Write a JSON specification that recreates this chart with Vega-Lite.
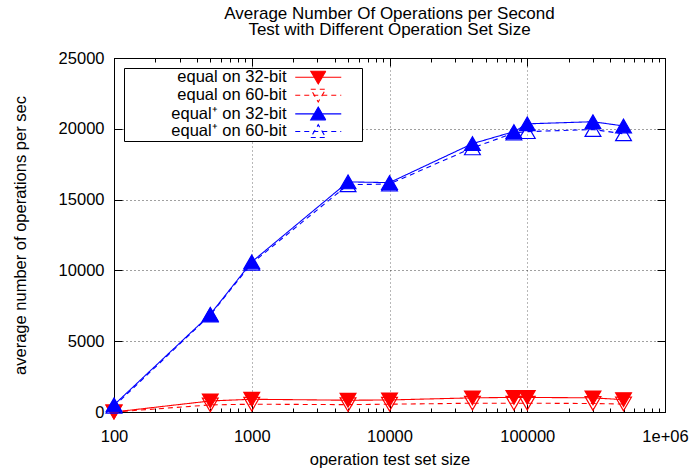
{
  "$schema": "https://vega.github.io/schema/vega-lite/v6.json",
  "autosize": {"type": "none"},
  "width": 551,
  "height": 354,
  "padding": {"left": 114, "top": 58, "right": 25, "bottom": 61},
  "background": "white",
  "config": {
    "font": "Liberation Sans",
    "view": {"stroke": "black", "strokeWidth": 1},
    "axis": {
      "labelFont": "Liberation Sans",
      "titleFont": "Liberation Sans",
      "labelFontSize": 16.5,
      "titleFontSize": 16.5,
      "titleFontWeight": "normal",
      "labelColor": "black",
      "titleColor": "black",
      "domainColor": "black",
      "tickColor": "black",
      "gridColor": "#000000",
      "gridDash": [1, 3],
      "gridOpacity": 0.75,
      "labelFlush": false,
      "labelOverlap": false
    },
    "legend": {
      "labelFont": "Liberation Sans",
      "labelFontSize": 16.5,
      "labelColor": "black"
    }
  },
  "title": {
    "text": ["Average Number Of Operations per Second", "Test with Different Operation Set Size"],
    "font": "Liberation Sans",
    "fontSize": 17,
    "fontWeight": "normal",
    "lineHeight": 16,
    "anchor": "middle",
    "color": "black",
    "offset": 11
  },
  "data": {
    "values": [
      {"size": 100, "series": "equal on 32-bit", "ops": 0},
      {"size": 500, "series": "equal on 32-bit", "ops": 780},
      {"size": 1000, "series": "equal on 32-bit", "ops": 900},
      {"size": 5000, "series": "equal on 32-bit", "ops": 830},
      {"size": 10000, "series": "equal on 32-bit", "ops": 850},
      {"size": 40000, "series": "equal on 32-bit", "ops": 1000},
      {"size": 80000, "series": "equal on 32-bit", "ops": 1030},
      {"size": 100000, "series": "equal on 32-bit", "ops": 1030},
      {"size": 300000, "series": "equal on 32-bit", "ops": 1000},
      {"size": 500000, "series": "equal on 32-bit", "ops": 870},
      {"size": 100, "series": "equal on 60-bit", "ops": 0},
      {"size": 500, "series": "equal on 60-bit", "ops": 500},
      {"size": 1000, "series": "equal on 60-bit", "ops": 550},
      {"size": 5000, "series": "equal on 60-bit", "ops": 520},
      {"size": 10000, "series": "equal on 60-bit", "ops": 550},
      {"size": 40000, "series": "equal on 60-bit", "ops": 620},
      {"size": 80000, "series": "equal on 60-bit", "ops": 620},
      {"size": 100000, "series": "equal on 60-bit", "ops": 620},
      {"size": 300000, "series": "equal on 60-bit", "ops": 600},
      {"size": 500000, "series": "equal on 60-bit", "ops": 560},
      {"size": 100, "series": "equal⁺ on 32-bit", "ops": 500},
      {"size": 500, "series": "equal⁺ on 32-bit", "ops": 6900},
      {"size": 1000, "series": "equal⁺ on 32-bit", "ops": 10600},
      {"size": 5000, "series": "equal⁺ on 32-bit", "ops": 16250},
      {"size": 10000, "series": "equal⁺ on 32-bit", "ops": 16200},
      {"size": 40000, "series": "equal⁺ on 32-bit", "ops": 18950},
      {"size": 80000, "series": "equal⁺ on 32-bit", "ops": 19800},
      {"size": 100000, "series": "equal⁺ on 32-bit", "ops": 20350},
      {"size": 300000, "series": "equal⁺ on 32-bit", "ops": 20500},
      {"size": 500000, "series": "equal⁺ on 32-bit", "ops": 20200},
      {"size": 100, "series": "equal⁺ on 60-bit", "ops": 400},
      {"size": 500, "series": "equal⁺ on 60-bit", "ops": 6850},
      {"size": 1000, "series": "equal⁺ on 60-bit", "ops": 10500},
      {"size": 5000, "series": "equal⁺ on 60-bit", "ops": 16050},
      {"size": 10000, "series": "equal⁺ on 60-bit", "ops": 16100},
      {"size": 40000, "series": "equal⁺ on 60-bit", "ops": 18650},
      {"size": 80000, "series": "equal⁺ on 60-bit", "ops": 19700},
      {"size": 100000, "series": "equal⁺ on 60-bit", "ops": 19800},
      {"size": 300000, "series": "equal⁺ on 60-bit", "ops": 19950},
      {"size": 500000, "series": "equal⁺ on 60-bit", "ops": 19650}
    ]
  },
  "layer": [
    {
      "mark": {"type": "line", "strokeWidth": 1.1, "clip": false},
      "encoding": {
        "x": {
          "field": "size", "type": "quantitative",
          "scale": {"type": "log", "domain": [100, 1000000], "nice": false},
          "axis": {
            "orient": "bottom",
            "title": "operation test set size",
            "titlePadding": 3,
            "values": [100,200,300,400,500,600,700,800,900,1000,2000,3000,4000,5000,6000,7000,8000,9000,10000,20000,30000,40000,50000,60000,70000,80000,90000,100000,200000,300000,400000,500000,600000,700000,800000,900000,1000000],
            "labelExpr": "indexof([100,1000,10000,100000,1000000], datum.value) >= 0 ? (datum.value == 1000000 ? '1e+06' : format(datum.value, 'd')) : ''",
            "tickSize": {"condition": {"test": "indexof([100,1000,10000,100000,1000000], datum.value) >= 0", "value": -8}, "value": -4},
            "gridOpacity": {"condition": {"test": "indexof([100,1000,10000,100000,1000000], datum.value) >= 0", "value": 0.75}, "value": 0},
            "labelPadding": 24
          }
        },
        "y": {
          "field": "ops", "type": "quantitative",
          "scale": {"domain": [0, 25000], "nice": false},
          "axis": {
            "orient": "left",
            "title": "average number of operations per sec",
            "values": [0, 5000, 10000, 15000, 20000, 25000],
            "format": "d",
            "tickSize": -8,
            "labelPadding": 18,
            "titlePadding": 30
          }
        },
        "stroke": {
          "field": "series", "type": "nominal",
          "scale": {"domain": ["equal on 32-bit", "equal on 60-bit", "equal⁺ on 32-bit", "equal⁺ on 60-bit"], "range": ["#ff0000", "#ff0000", "#0000ff", "#0000ff"]},
          "legend": null
        },
        "strokeDash": {
          "field": "series", "type": "nominal",
          "scale": {"domain": ["equal on 32-bit", "equal on 60-bit", "equal⁺ on 32-bit", "equal⁺ on 60-bit"], "range": [[1, 0], [5, 4], [1, 0], [5, 4]]},
          "legend": null
        }
      }
    },
    {
      "mark": {"type": "point", "filled": true, "size": 250, "strokeWidth": 1.2, "opacity": 1, "clip": false},
      "encoding": {
        "x": {
          "field": "size", "type": "quantitative",
          "axis": {
            "orient": "top",
            "title": null,
            "labels": false,
            "grid": false,
            "values": [100,200,300,400,500,600,700,800,900,1000,2000,3000,4000,5000,6000,7000,8000,9000,10000,20000,30000,40000,50000,60000,70000,80000,90000,100000,200000,300000,400000,500000,600000,700000,800000,900000,1000000],
            "tickSize": {"condition": {"test": "indexof([100,1000,10000,100000,1000000], datum.value) >= 0", "value": -8}, "value": -4},
            "domain": false
          }
        },
        "y": {
          "field": "ops", "type": "quantitative",
          "axis": {
            "orient": "right",
            "title": null,
            "labels": false,
            "grid": false,
            "values": [0, 5000, 10000, 15000, 20000, 25000],
            "tickSize": -8,
            "domain": false
          }
        },
        "stroke": {
          "field": "series", "type": "nominal",
          "scale": {"domain": ["equal on 32-bit", "equal on 60-bit", "equal⁺ on 32-bit", "equal⁺ on 60-bit"], "range": ["#ff0000", "#ff0000", "#0000ff", "#0000ff"]},
          "legend": null
        },
        "fill": {
          "field": "series", "type": "nominal",
          "scale": {"domain": ["equal on 32-bit", "equal on 60-bit", "equal⁺ on 32-bit", "equal⁺ on 60-bit"], "range": ["#ff0000", "transparent", "#0000ff", "transparent"]},
          "legend": null
        },
        "shape": {
          "field": "series", "type": "nominal",
          "scale": {"domain": ["equal on 32-bit", "equal on 60-bit", "equal⁺ on 32-bit", "equal⁺ on 60-bit"], "range": ["triangle-down", "triangle-down", "triangle-up", "triangle-up"]},
          "legend": null
        }
      }
    },
    {
      "transform": [{"filter": "datum.ops < -1"}],
      "mark": {"type": "point", "filled": true, "strokeWidth": 1.1, "opacity": 1},
      "encoding": {
        "stroke": {
          "field": "series", "type": "nominal",
          "scale": {"domain": ["equal on 32-bit", "equal on 60-bit", "equal⁺ on 32-bit", "equal⁺ on 60-bit"], "range": ["#ff0000", "#ff0000", "#0000ff", "#0000ff"]},
          "legend": {"title": null}
        },
        "fill": {
          "field": "series", "type": "nominal",
          "scale": {"domain": ["equal on 32-bit", "equal on 60-bit", "equal⁺ on 32-bit", "equal⁺ on 60-bit"], "range": ["#ff0000", "transparent", "#0000ff", "transparent"]},
          "legend": {"title": null}
        },
        "strokeDash": {
          "field": "series", "type": "nominal",
          "scale": {"domain": ["equal on 32-bit", "equal on 60-bit", "equal⁺ on 32-bit", "equal⁺ on 60-bit"], "range": [[1, 0], [5, 4], [1, 0], [5, 4]]},
          "legend": {"title": null}
        },
        "shape": {
          "field": "series", "type": "nominal",
          "scale": {
            "domain": ["equal on 32-bit", "equal on 60-bit", "equal⁺ on 32-bit", "equal⁺ on 60-bit"],
            "range": [
              "M8,0M-4.6,0H4.6M-1.5,-1.2L1.5,-1.2L0,1.35Z",
              "M8,0M-4.6,0H4.6M-1.5,-1.2L1.5,-1.2L0,1.35Z",
              "M8,0M-4.6,0H4.6M-1.5,1.2L1.5,1.2L0,-1.35Z",
              "M8,0M-4.6,0H4.6M-1.5,1.2L1.5,1.2L0,-1.35Z"
            ]
          },
          "legend": {
            "title": null,
            "orient": "top-left",
            "offset": 10,
            "padding": 1,
            "strokeColor": "black",
            "fillColor": "white",
            "rowPadding": -0.4,
            "symbolSize": 100,
            "symbolStrokeWidth": 1.1,
            "symbolOffset": 185,
            "labelOffset": -40,
            "labelAlign": "right",
            "labelLimit": 300
          }
        }
      }
    }
  ],
  "resolve": {
    "axis": {"x": "independent", "y": "independent"},
    "scale": {"shape": "independent", "stroke": "independent", "fill": "independent", "strokeDash": "independent"}
  }
}
